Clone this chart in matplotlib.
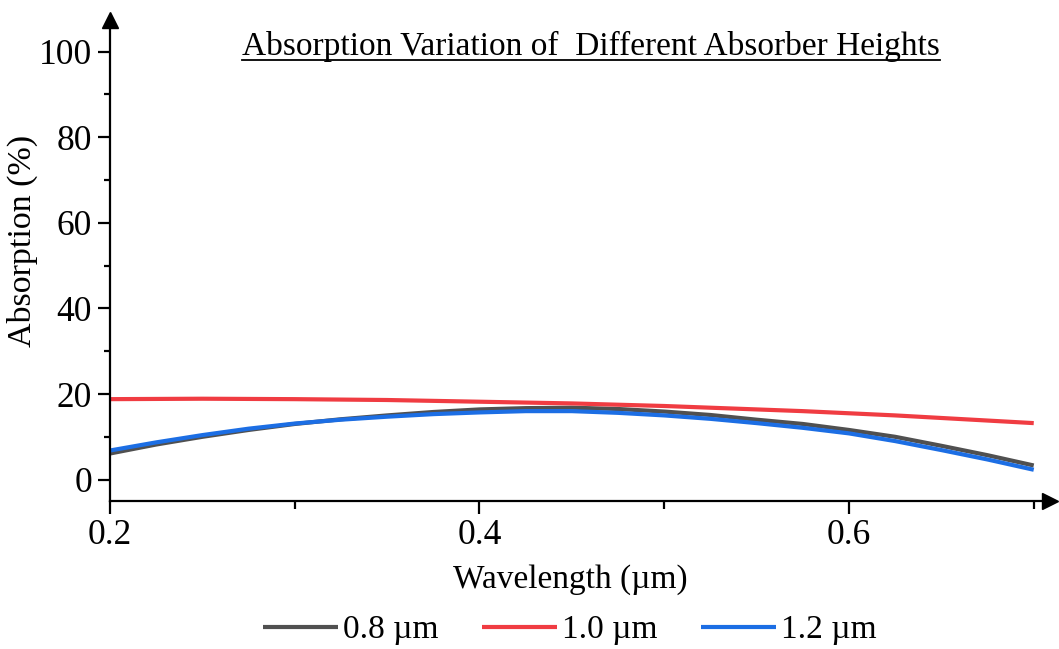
"""Absorption vs wavelength for three absorber heights."""

import matplotlib
matplotlib.use('Agg')
import matplotlib.pyplot as plt
import matplotlib.lines as mlines
from matplotlib.ticker import MultipleLocator, FixedLocator

plt.rcParams['font.family'] = ['Liberation Serif', 'DejaVu Serif']

# Data
# -----------------------------

wavelength = [0.200, 0.225, 0.250, 0.275, 0.300, 0.325, 0.350, 0.375, 0.400,
              0.425, 0.450, 0.475, 0.500, 0.525, 0.550, 0.575, 0.600, 0.625,
              0.650, 0.675, 0.700]
abs_08 = [6.1, 8.2, 10.0, 11.6, 13.0, 14.1, 15.0, 15.8, 16.4, 16.7, 16.8,
          16.5, 15.9, 15.1, 14.0, 13.0, 11.6, 10.0, 7.9, 5.7, 3.3]
abs_10 = [18.8, 18.85, 18.9, 18.85, 18.8, 18.7, 18.6, 18.4, 18.2, 18.0, 17.8,
          17.5, 17.2, 16.8, 16.4, 16.0, 15.5, 15.0, 14.4, 13.8, 13.2]
abs_12 = [6.8, 8.7, 10.4, 11.9, 13.1, 14.0, 14.7, 15.3, 15.7, 16.0, 16.0,
          15.6, 15.0, 14.2, 13.2, 12.1, 10.8, 9.0, 6.9, 4.7, 2.3]
labels = ['0.8 µm', '1.0 µm', '1.2 µm']
colors = ['#505050', '#f03c42', '#1c6ee4']


# Figure
# ------

W, H = 1059, 649
fig = plt.figure(figsize=(W/100, H/100), dpi=100)
ax = fig.add_axes([110/W, 1-501/H, 940/W, 481/H])

for y, lab, col in zip([abs_08, abs_10, abs_12], labels, colors):
    ax.plot(wavelength, y, color=col, lw=3, label=lab, solid_capstyle='butt')

ax.set_xlim(0.2, 0.7088)
ax.set_ylim(-5, 107.4)

# spines and arrows
for side in ['top', 'right']:
    ax.spines[side].set_visible(False)
for side in ['left', 'bottom']:
    ax.spines[side].set_linewidth(1.6)
ax.plot([1], [0], marker='>', ms=11, color='k', transform=ax.transAxes,
        clip_on=False)
ax.plot([0], [1], marker='^', ms=11, color='k', transform=ax.transAxes,
        clip_on=False)

# ticks
ax.xaxis.set_major_locator(FixedLocator([0.2, 0.4, 0.6]))
ax.xaxis.set_minor_locator(FixedLocator([0.3, 0.5, 0.7]))
ax.yaxis.set_major_locator(MultipleLocator(20))
ax.yaxis.set_minor_locator(FixedLocator([10, 30, 50, 70, 90]))
ax.set_xticklabels(['0.2', '0.4', '0.6'])
ax.tick_params(which='major', direction='out', length=9, width=1.6,
               labelsize=25.5, pad=4)
ax.tick_params(which='minor', direction='out', length=4.5, width=1.6)
ax.tick_params(axis='x', which='minor', length=6)

# labels
ax.set_xlabel('Wavelength (µm)', fontsize=24)
ax.set_ylabel('Absorption (%)', fontsize=24.5)
ax.xaxis.set_label_coords(0.49, -0.132)
ax.yaxis.set_label_coords(-0.077, 0.54)

# underlined title
title = fig.text(591/W, 1-55/H, 'Absorption Variation of  Different Absorber Heights',
                 ha='center', va='baseline', fontsize=24)
fig.canvas.draw()
bb = title.get_window_extent().transformed(fig.transFigure.inverted())
fig.add_artist(mlines.Line2D([bb.x0, bb.x1], [1-60/H, 1-60/H], color='k',
                             lw=1.3, transform=fig.transFigure))

# legend
fig.legend(loc='center', bbox_to_anchor=(570/W, 1-630/H), ncol=3,
           frameon=False, fontsize=24, handlelength=2.25, handletextpad=0.15,
           columnspacing=1.3)

fig.savefig('out.png', dpi=100)
